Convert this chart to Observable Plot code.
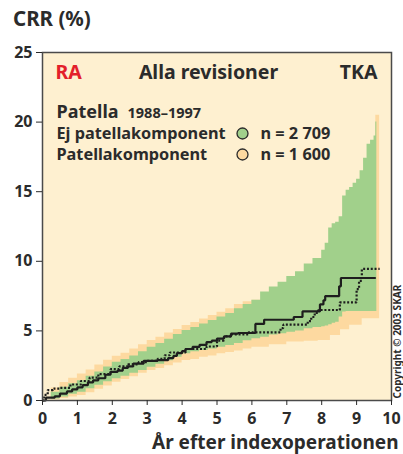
<!DOCTYPE html>
<html>
<head>
<meta charset="utf-8">
<script src="https://cdn.jsdelivr.net/npm/d3@7"></script>
<script src="https://cdn.jsdelivr.net/npm/@observablehq/plot@0.6"></script>
<style>
  html, body { margin: 0; padding: 0; background: #fff; }
  #wrap { width: 403px; font-family: "Noto Sans", sans-serif; }
  #title { position: relative; height: 40px; }
  #title span { position: absolute; left: 13px; top: 8px; font-size: 20.5px; font-weight: bold; color: #2b2b2b; line-height: 1; }
</style>
</head>
<body>
<div id="wrap">
  <div id="title"><span>CRR (%)</span></div>
  <div id="chart"></div>
</div>
<script>
// Tick labels
const xTicks = [0, 1, 2, 3, 4, 5, 6, 7, 8, 9, 10];
const yTicks = [0, 5, 10, 15, 20, 25];

// Ej patellakomponent (solid line) – cumulative revision rate, %
const solidX = [0, 0.1, 0.35, 0.5, 0.7, 0.85, 1.0, 1.15, 1.3, 1.45, 1.6, 1.8, 1.95, 2.15, 2.3, 2.45, 2.6, 2.9, 3.3, 3.6, 3.75, 3.85, 4.0, 4.1, 4.3, 4.5, 4.7, 4.85, 5.0, 5.2, 5.4, 5.6, 6.1, 6.35, 7.2, 7.45, 7.95, 8.05, 8.1, 8.5, 8.55, 9.55];
const solidY = [0, 0.2, 0.3, 0.5, 0.65, 0.8, 0.95, 1.1, 1.3, 1.45, 1.6, 1.85, 2.05, 2.15, 2.35, 2.45, 2.65, 2.85, 2.9, 3.05, 3.2, 3.4, 3.55, 3.7, 3.85, 4.0, 4.2, 4.3, 4.45, 4.6, 4.8, 4.85, 5.5, 5.8, 6.0, 6.4, 6.9, 7.2, 7.5, 8.2, 8.8, 8.8];

// Patellakomponent (dotted line)
const dottedX = [0, 0.05, 0.15, 0.3, 0.5, 0.8, 1.1, 1.35, 1.6, 1.95, 2.2, 2.45, 2.75, 3.0, 3.3, 3.5, 3.65, 4.1, 4.7, 5.0, 5.2, 5.4, 5.9, 6.82, 6.9, 7.6, 7.7, 7.8, 7.9, 8.52, 9.0, 9.07, 9.15, 9.66];
const dottedY = [0, 0.4, 0.75, 0.85, 0.9, 1.15, 1.4, 1.65, 1.9, 2.25, 2.45, 2.6, 2.75, 2.85, 3.0, 3.25, 3.45, 3.7, 3.88, 4.3, 4.6, 4.75, 4.9, 5.2, 5.45, 5.7, 6.0, 6.3, 6.5, 7.05, 8.0, 8.6, 9.45, 9.45];

// Confidence band, Ej patellakomponent (green)
const greenX  = [0, 0.25, 0.5, 0.75, 1, 1.25, 1.5, 1.75, 2, 2.25, 2.5, 2.75, 3, 3.25, 3.5, 3.75, 4, 4.25, 4.5, 4.75, 5, 5.25, 5.5, 5.75, 6, 6.25, 6.5, 6.75, 7, 7.25, 7.5, 7.75, 8, 8.1, 8.2, 8.3, 8.4, 8.5, 8.6, 8.7, 8.8, 8.9, 9, 9.1, 9.2, 9.3, 9.4, 9.5, 9.55, 9.58];
const greenHi = [0, 0.6, 0.95, 1.2, 1.42, 1.75, 2.05, 2.4, 2.75, 2.95, 3.2, 3.5, 3.83, 4.1, 4.4, 4.75, 5.03, 5.25, 5.5, 5.75, 6.0, 6.25, 6.6, 6.9, 7.2, 7.8, 8.15, 8.5, 8.9, 9.25, 9.8, 10.2, 10.8, 11.3, 12.4, 12.7, 12.8, 13.2, 14.7, 15.1, 15.3, 15.6, 15.9, 16.5, 17.4, 18.4, 18.7, 19.0, 20.0, 20.0];
const greenLo = [0, 0.1, 0.25, 0.45, 0.6, 0.85, 1.1, 1.35, 1.56, 1.75, 1.95, 2.15, 2.39, 2.6, 2.85, 3.1, 3.35, 3.5, 3.6, 3.7, 3.83, 3.95, 4.1, 4.3, 4.43, 4.55, 4.7, 4.8, 4.9, 5.0, 5.15, 5.25, 5.3, 5.35, 5.45, 5.55, 5.63, 6.0, 6.35, 6.4, 6.4, 6.4, 6.4, 6.4, 6.4, 6.4, 6.4, 6.4, 6.4, 6.4];

// Confidence band, Patellakomponent (orange)
const orangeX  = [0, 0.25, 0.5, 0.75, 1, 1.25, 1.5, 1.75, 2, 2.25, 2.5, 2.75, 3, 3.25, 3.5, 3.75, 4, 4.25, 4.5, 4.75, 5, 5.25, 5.5, 5.75, 6, 6.5, 7, 7.5, 7.9, 8.25, 8.54, 8.8, 9.16, 9.4, 9.55, 9.66];
const orangeHi = [0, 0.9, 1.3, 1.6, 1.9, 2.2, 2.55, 2.9, 3.18, 3.4, 3.7, 4.0, 4.31, 4.55, 4.85, 5.1, 5.39, 5.6, 5.85, 6.1, 6.34, 6.6, 6.9, 7.1, 7.2, 7.6, 8.3, 9.2, 10.0, 11.5, 12.5, 13.8, 16.0, 18.0, 20.5, 20.5];
const orangeLo = [0, 0.05, 0.15, 0.25, 0.36, 0.55, 0.8, 1.05, 1.31, 1.5, 1.7, 1.95, 2.15, 2.3, 2.5, 2.7, 2.87, 2.95, 3.1, 3.2, 3.35, 3.45, 3.55, 3.7, 3.83, 4.0, 4.2, 4.25, 4.31, 4.67, 5.08, 5.4, 5.87, 5.87, 5.87, 5.87];

const solid  = solidX.map((x, i) => ({x, y: solidY[i]}));
const dotted = dottedX.map((x, i) => ({x, y: dottedY[i]}));
const green  = greenX.map((x, i) => ({x, lo: greenLo[i], hi: greenHi[i]}));
const orange = orangeX.map((x, i) => ({x, lo: orangeLo[i], hi: orangeHi[i]}));

const CREAM = "#FEF0D0", GREEN = "#A1D08B", ORANGE = "#FDD9A0", INK = "#2b2b2b";
const F = "'Noto Sans', sans-serif";
const HEAD = 19.5, LEG = 16.3;

const chart = Plot.plot({
  width: 403,
  height: 414,
  marginLeft: 42,
  marginRight: 12,
  marginTop: 12,
  marginBottom: 54,
  style: {fontFamily: F, fontWeight: "bold", fontSize: "16px", color: INK, background: "#fff", overflow: "visible"},
  x: {domain: [0, 10]},
  y: {domain: [0, 25]},
  marks: [
    Plot.frame({fill: CREAM, stroke: null}),
    Plot.areaY(orange, {x: "x", y1: "lo", y2: "hi", fill: ORANGE, curve: "step-after"}),
    Plot.areaY(green, {x: "x", y1: "lo", y2: "hi", fill: GREEN, curve: "step-after"}),
    Plot.line(dotted, {x: "x", y: "y", curve: "step-after", stroke: "#1e1e1e", strokeWidth: 2.2, strokeDasharray: "2,1.8", strokeLinecap: "butt", strokeLinejoin: "miter"}),
    Plot.line(solid, {x: "x", y: "y", curve: "step-after", stroke: "#1e1e1e", strokeWidth: 2.2, strokeLinecap: "butt", strokeLinejoin: "miter"}),
    Plot.frame({stroke: "#4a4a4a", strokeWidth: 1.5}),
    Plot.axisX({ticks: xTicks, tickSize: 5, tickPadding: 7, label: null, fontSize: 16, fontWeight: "bold", stroke: INK}),
    Plot.axisY({ticks: yTicks, tickSize: 6, tickPadding: 4, label: null, fontSize: 16, fontWeight: "bold", stroke: INK}),
    Plot.text(["År efter indexoperationen"], {frameAnchor: "bottom-right", dx: 7, dy: 42.5, text: d => d, textAnchor: "end", lineAnchor: "middle", fontSize: 19, fontWeight: "bold", fill: INK}),
    Plot.text(["RA"], {frameAnchor: "top-left", dx: 13, dy: 20, text: d => d, textAnchor: "start", lineAnchor: "middle", fontSize: HEAD, fontWeight: "bold", fill: "#E3202A"}),
    Plot.text(["Alla revisioner"], {frameAnchor: "top", dx: -8.5, dy: 20, text: d => d, textAnchor: "middle", lineAnchor: "middle", fontSize: HEAD, fontWeight: "bold", fill: INK}),
    Plot.text(["TKA"], {frameAnchor: "top-right", dx: -14, dy: 20, text: d => d, textAnchor: "end", lineAnchor: "middle", fontSize: HEAD, fontWeight: "bold", fill: INK}),
    Plot.text(["Patella"], {frameAnchor: "top-left", dx: 14, dy: 60, text: d => d, textAnchor: "start", lineAnchor: "middle", fontSize: 18, fontWeight: "bold", fill: INK}),
    Plot.text(["1988–1997"], {frameAnchor: "top-left", dx: 85, dy: 61, text: d => d, textAnchor: "start", lineAnchor: "middle", fontSize: 14.5, fontWeight: "bold", fill: INK}),
    Plot.text(["Ej patellakomponent"], {frameAnchor: "top-left", dx: 14, dy: 81.5, text: d => d, textAnchor: "start", lineAnchor: "middle", fontSize: LEG, fontWeight: "bold", fill: INK}),
    Plot.text(["Patellakomponent"], {frameAnchor: "top-left", dx: 14, dy: 102.5, text: d => d, textAnchor: "start", lineAnchor: "middle", fontSize: LEG, fontWeight: "bold", fill: INK}),
    Plot.dot([0], {frameAnchor: "top-left", dx: 200, dy: 81, r: 5.5, fill: GREEN, stroke: INK, strokeWidth: 1.3}),
    Plot.dot([0], {frameAnchor: "top-left", dx: 200, dy: 102, r: 5.5, fill: ORANGE, stroke: INK, strokeWidth: 1.3}),
    Plot.text(["n = 2 709"], {frameAnchor: "top-left", dx: 218, dy: 81.5, text: d => d, textAnchor: "start", lineAnchor: "middle", fontSize: LEG, fontWeight: "bold", fill: INK}),
    Plot.text(["n = 1 600"], {frameAnchor: "top-left", dx: 218, dy: 102.5, text: d => d, textAnchor: "start", lineAnchor: "middle", fontSize: LEG, fontWeight: "bold", fill: INK}),
    Plot.text(["Copyright © 2003 SKAR"], {frameAnchor: "bottom-right", dx: 6, dy: -2, rotate: -90, text: d => d, textAnchor: "start", lineAnchor: "middle", fontSize: 10, fontWeight: "bold", fill: INK})
  ]
});
document.getElementById("chart").appendChild(chart);
</script>
</body>
</html>
